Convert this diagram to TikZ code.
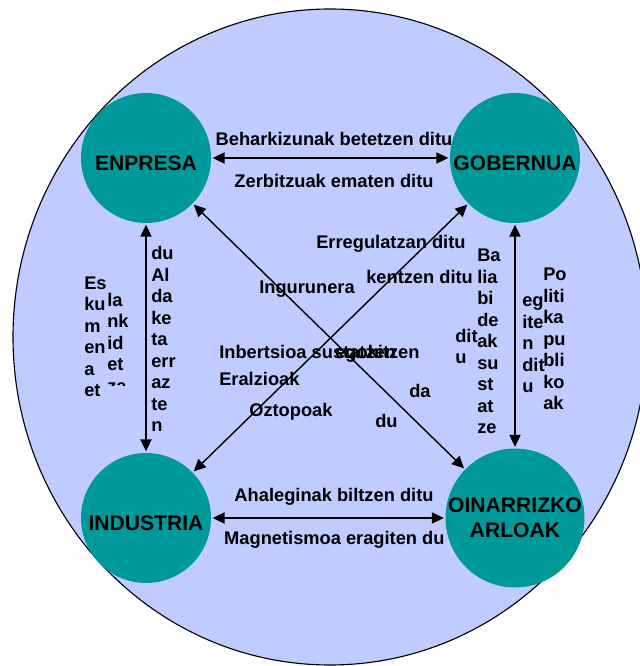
\documentclass[tikz,border=0pt]{standalone}
\usepackage{fontspec}
\setmainfont{Liberation Sans}
\usetikzlibrary{arrows.meta}
\definecolor{hubteal}{RGB}{0,153,153}
\definecolor{bgblue}{RGB}{192,204,255}

\begin{document}
\begin{tikzpicture}[
    hub/.style={circle, fill=hubteal, minimum size=3.25cm, inner sep=0pt, align=center, font=\fontsize{15}{18}\selectfont\bfseries},
    lowhub/.style={hub, text height=0.62cm, text depth=0pt},
    lbl/.style={inner sep=0pt, align=left, anchor=base west, font=\fontsize{13}{15.3}\selectfont\bfseries},
    mid/.style={lbl, anchor=base, align=center},
    link/.style={{Triangle[length=3mm,width=2.8mm]}-{Triangle[length=3mm,width=2.8mm]}, line width=1pt, shorten <=1pt, shorten >=1pt}
]
        \useasboundingbox (0, 0) rectangle (16, 16.65);
        \clip (0, 0) rectangle (16, 16.65);
        \draw[fill=bgblue, line width=0.8pt] (8.25, 8.225) ellipse [x radius=7.925, y radius=8.2];

        % the four sectors
        \node[lowhub] (enpresa) at (3.65, 12.7) {ENPRESA};
        \node[lowhub] (gobernua) at (12.875, 12.7) {GOBERNUA};
        \node[lowhub] (industria) at (3.65, 3.7) {INDUSTRIA};
        \node[hub] (oinarri) at (12.875, 3.7) {OINARRIZKO\\ARLOAK};

        % labels along the sides
        \node[mid] (behar) at (8.35, 13.0) {Beharkizunak betetzen ditu};
        \node[mid] (zerbitzu) at (8.35, 11.95) {Zerbitzuak ematen ditu};
        \node[mid] (ahalegin) at (8.35, 4.1) {Ahaleginak biltzen ditu};
        \node[mid] (magnet) at (8.36, 3.025) {Magnetismoa eragiten du};

        % narrow boxes (anchored at the last line)
        \node[lbl] (eskumena) at (2.1, 6.725) {Es\\ku\\m\\en\\a\\et};
        \begin{scope}
            \clip (2.6, 7.0) rectangle (3.5, 9.6);
            \node[lbl] (lankide) at (2.675, 6.84) {la\\nk\\id\\et\\za};
        \end{scope}
        \node[lbl] (aldaketa) at (3.775, 5.85) {du\\Al\\da\\ke\\ta\\err\\az\\te\\n};

        \node[lbl] (baliabide) at (11.925, 5.8) {Ba\\lia\\bi\\de\\ak\\su\\st\\at\\ze};
        \node[lbl] (ditu) at (11.375, 7.55) {dit\\u};
        \node[lbl] (egiten) at (13.05, 6.825) {eg\\ite\\n\\dit\\u};
        \node[lbl] (politika) at (13.575, 6.4) {Po\\liti\\ka\\pu\\bli\\ko\\ak};

        % labels in the middle
        \node[lbl] (erregul) at (7.9, 10.425) {Erregulatzan ditu};
        \node[lbl] (kentzen) at (9.15, 9.55) {kentzen ditu};
        \node[lbl] (ingurune) at (6.475, 9.3) {Ingurunera};
        \node[lbl] (inbertsio) at (5.475, 7.675) {Inbertsioa sustatzen};
        \node[lbl] (egokitzen) at (8.375, 7.675) {egokitzen};
        \node[lbl] (eralzio) at (5.475, 7.0) {Eralzioak};
        \node[lbl] (oztopo) at (6.225, 6.225) {Oztopoak};
        \node[lbl] (da) at (10.225, 6.7) {da};
        \node[lbl] (du) at (9.375, 5.95) {du};

        % connections
        \draw[link] (enpresa) -- (gobernua);
        \draw[link] (industria) -- (oinarri);
        \draw[link] (enpresa) -- (industria);
        \draw[link] (gobernua) -- (oinarri);
        \draw[link] (enpresa) -- (oinarri);
        \draw[link] (gobernua) -- (industria);
\end{tikzpicture}
\end{document}
